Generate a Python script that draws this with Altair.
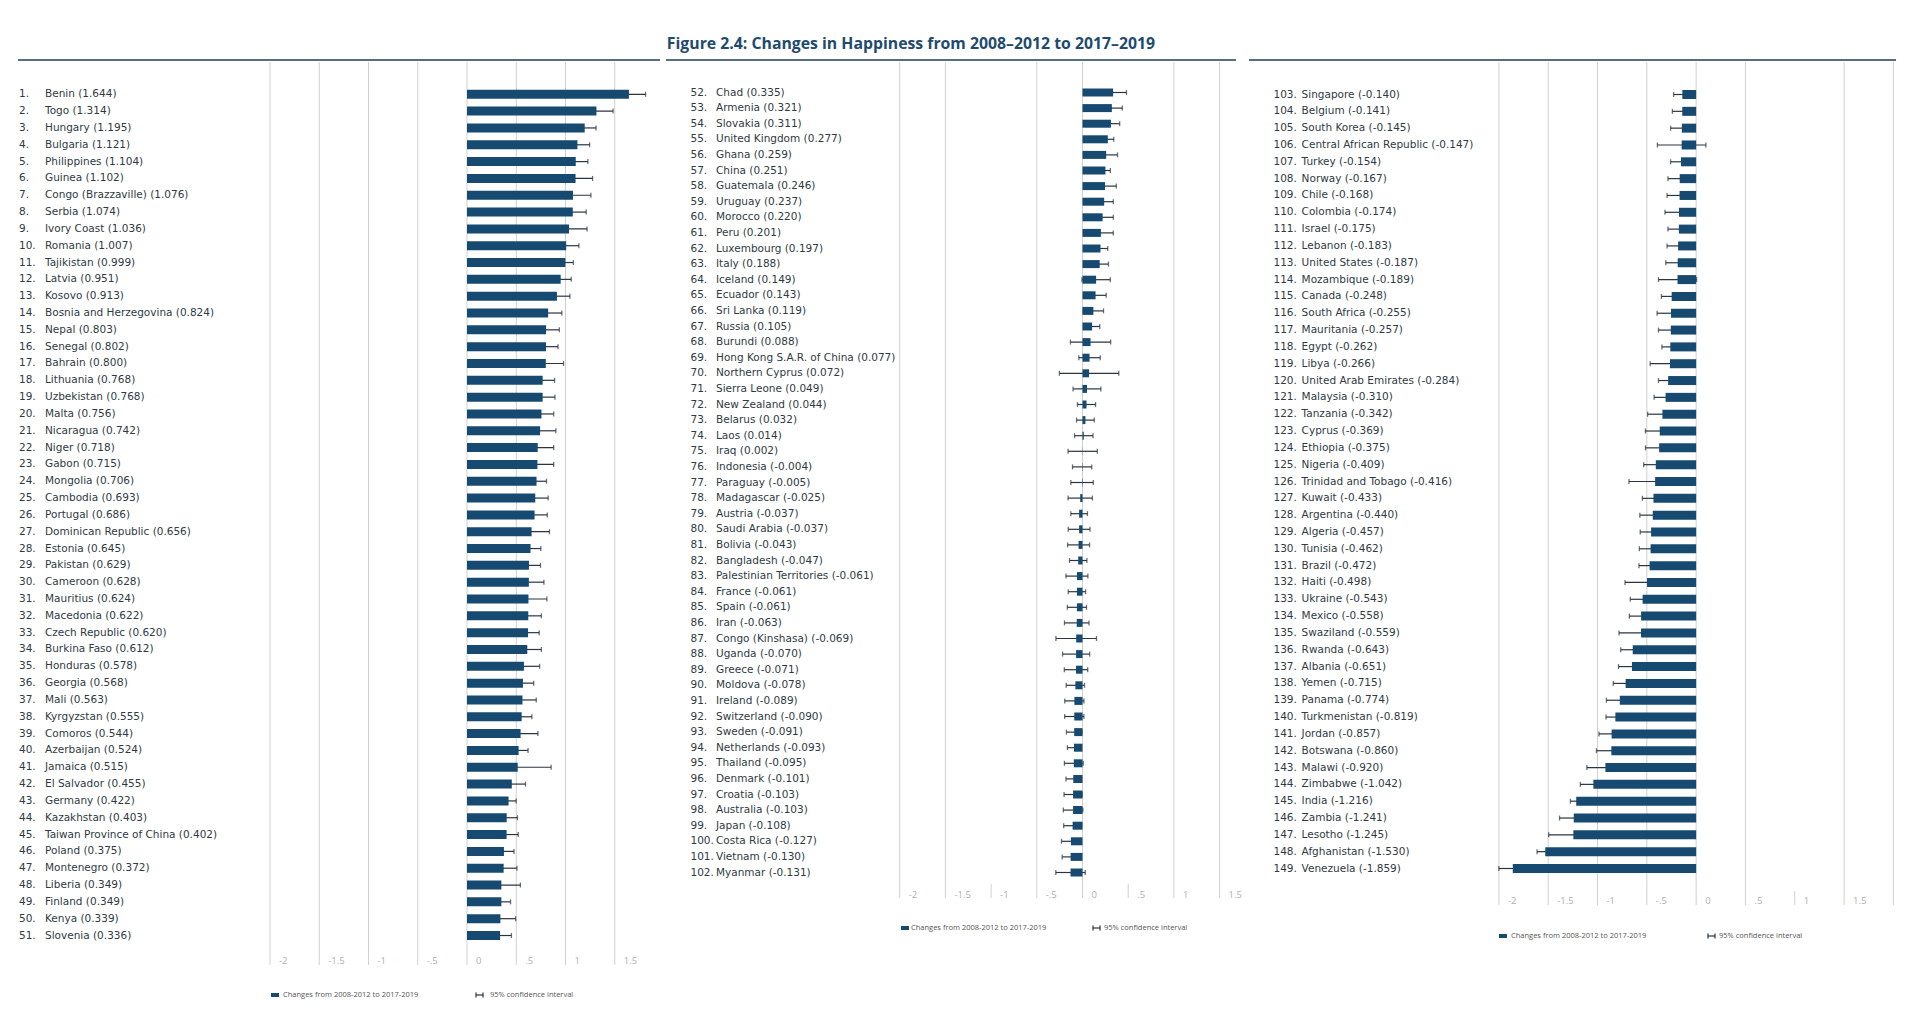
import altair as alt
import pandas as pd

TITLE = "Figure 2.4: Changes in Happiness from 2008\u20132012 to 2017\u20132019"

names_1 = ["Benin", "Togo", "Hungary", "Bulgaria", "Philippines", "Guinea", "Congo (Brazzaville)", "Serbia",
           "Ivory Coast", "Romania", "Tajikistan", "Latvia", "Kosovo", "Bosnia and Herzegovina", "Nepal", "Senegal",
           "Bahrain", "Lithuania", "Uzbekistan", "Malta", "Nicaragua", "Niger", "Gabon", "Mongolia", "Cambodia",
           "Portugal", "Dominican Republic", "Estonia", "Pakistan", "Cameroon", "Mauritius", "Macedonia",
           "Czech Republic", "Burkina Faso", "Honduras", "Georgia", "Mali", "Kyrgyzstan", "Comoros", "Azerbaijan",
           "Jamaica", "El Salvador", "Germany", "Kazakhstan", "Taiwan Province of China", "Poland", "Montenegro",
           "Liberia", "Finland", "Kenya", "Slovenia"]
values_1 = [1.644, 1.314, 1.195, 1.121, 1.104, 1.102, 1.076, 1.074, 1.036, 1.007, 0.999, 0.951, 0.913, 0.824,
            0.803, 0.802, 0.800, 0.768, 0.768, 0.756, 0.742, 0.718, 0.715, 0.706, 0.693, 0.686, 0.656, 0.645,
            0.629, 0.628, 0.624, 0.622, 0.620, 0.612, 0.578, 0.568, 0.563, 0.555, 0.544, 0.524, 0.515, 0.455,
            0.422, 0.403, 0.402, 0.375, 0.372, 0.349, 0.349, 0.339, 0.336]
ci_1 = [0.169, 0.169, 0.115, 0.124, 0.123, 0.173, 0.182, 0.136, 0.183, 0.129, 0.081, 0.107, 0.132, 0.139, 0.134,
        0.122, 0.180, 0.121, 0.125, 0.124, 0.160, 0.162, 0.165, 0.101, 0.131, 0.129, 0.181, 0.105, 0.117, 0.153,
        0.187, 0.133, 0.113, 0.143, 0.159, 0.109, 0.140, 0.104, 0.176, 0.096, 0.339, 0.139, 0.077, 0.109, 0.118,
        0.102, 0.135, 0.193, 0.093, 0.155, 0.115]

names_2 = ["Chad", "Armenia", "Slovakia", "United Kingdom", "Ghana", "China", "Guatemala", "Uruguay", "Morocco",
           "Peru", "Luxembourg", "Italy", "Iceland", "Ecuador", "Sri Lanka", "Russia", "Burundi",
           "Hong Kong S.A.R. of China", "Northern Cyprus", "Sierra Leone", "New Zealand", "Belarus", "Laos", "Iraq",
           "Indonesia", "Paraguay", "Madagascar", "Austria", "Saudi Arabia", "Bolivia", "Bangladesh",
           "Palestinian Territories", "France", "Spain", "Iran", "Congo (Kinshasa)", "Uganda", "Greece", "Moldova",
           "Ireland", "Switzerland", "Sweden", "Netherlands", "Thailand", "Denmark", "Croatia", "Australia", "Japan",
           "Costa Rica", "Vietnam", "Myanmar"]
values_2 = [0.335, 0.321, 0.311, 0.277, 0.259, 0.251, 0.246, 0.237, 0.220, 0.201, 0.197, 0.188, 0.149, 0.143,
            0.119, 0.105, 0.088, 0.077, 0.072, 0.049, 0.044, 0.032, 0.014, 0.002, -0.004, -0.005, -0.025, -0.037,
            -0.037, -0.043, -0.047, -0.061, -0.061, -0.061, -0.063, -0.069, -0.070, -0.071, -0.078, -0.089,
            -0.090, -0.091, -0.093, -0.095, -0.101, -0.103, -0.103, -0.108, -0.127, -0.130, -0.131]
ci_2 = [0.146, 0.115, 0.096, 0.065, 0.124, 0.054, 0.124, 0.100, 0.117, 0.136, 0.079, 0.096, 0.155, 0.116, 0.111,
        0.084, 0.220, 0.117, 0.325, 0.152, 0.099, 0.097, 0.101, 0.160, 0.105, 0.123, 0.133, 0.091, 0.119, 0.120,
        0.095, 0.120, 0.095, 0.105, 0.134, 0.222, 0.148, 0.128, 0.100, 0.105, 0.105, 0.085, 0.072, 0.103, 0.080,
        0.099, 0.107, 0.098, 0.103, 0.092, 0.161]

names_3 = ["Singapore", "Belgium", "South Korea", "Central African Republic", "Turkey", "Norway", "Chile",
           "Colombia", "Israel", "Lebanon", "United States", "Mozambique", "Canada", "South Africa", "Mauritania",
           "Egypt", "Libya", "United Arab Emirates", "Malaysia", "Tanzania", "Cyprus", "Ethiopia", "Nigeria",
           "Trinidad and Tobago", "Kuwait", "Argentina", "Algeria", "Tunisia", "Brazil", "Haiti", "Ukraine",
           "Mexico", "Swaziland", "Rwanda", "Albania", "Yemen", "Panama", "Turkmenistan", "Jordan", "Botswana",
           "Malawi", "Zimbabwe", "India", "Zambia", "Lesotho", "Afghanistan", "Venezuela"]
values_3 = [-0.140, -0.141, -0.145, -0.147, -0.154, -0.167, -0.168, -0.174, -0.175, -0.183, -0.187, -0.189,
            -0.248, -0.255, -0.257, -0.262, -0.266, -0.284, -0.310, -0.342, -0.369, -0.375, -0.409, -0.416,
            -0.433, -0.440, -0.457, -0.462, -0.472, -0.498, -0.543, -0.558, -0.559, -0.643, -0.651, -0.715,
            -0.774, -0.819, -0.857, -0.860, -0.920, -1.042, -1.216, -1.241, -1.245, -1.530, -1.859]
ci_3 = [0.089, 0.100, 0.114, 0.246, 0.105, 0.119, 0.127, 0.142, 0.111, 0.112, 0.121, 0.193, 0.104, 0.141, 0.125,
        0.085, 0.200, 0.098, 0.116, 0.150, 0.145, 0.139, 0.123, 0.265, 0.112, 0.131, 0.110, 0.114, 0.108, 0.223,
        0.125, 0.119, 0.223, 0.122, 0.136, 0.125, 0.136, 0.095, 0.128, 0.151, 0.188, 0.132, 0.059, 0.144, 0.250,
        0.083, 0.141]

tick_values = [-2, -1.5, -1, -0.5, 0, 0.5, 1, 1.5]
tick_labels = ["-2", "-1.5", "-1", "-.5", "0", ".5", "1", "1.5"]
legend_labels = ["Changes from 2008-2012 to 2017-2019", "95% confidence interval"]

FONT = "Open Sans"
LABEL_FONT = "DejaVu Sans"
BAR = "#164a70"
ERR = "#2b3440"
GRID = "#d0d0d0"
TXT = "#2f3a44"
HEAD = "#1f4b6e"
LINE = "#1f3d5a"
TICKTXT = "#b0b0b0"
LEGTXT = "#555555"
H = 996

panels = [
    dict(names=names_1, values=values_1, ci=ci_1, first=1, width=657, x_range=[262, 656],
         y_range=[86.3, 927.5], grid_full=[-2, -1.5, -1, -0.5, 0, 0.5, 1, 1.5], grid_short=[],
         grid_bottom=957, tick_y=953, legend_y=987, legend_x=[263, 275, 468, 482],
         rank_x=11, name_x=37, line=[10, 652], bar=9, title_x=None),
    dict(names=names_2, values=values_2, ci=ci_2, first=52, width=579, x_range=[234.7, 600.3],
         y_range=[84.5, 864.5], grid_full=[-2, -1.5, -0.5, 0, 1, 1.5], grid_short=[-1, 0.5],
         grid_bottom=890, tick_y=887, legend_y=920, legend_x=[236, 246, 428, 439],
         rank_x=25.5, name_x=51, line=[1, 571], bar=8, title_x=246),
    dict(names=names_3, values=values_3, ci=ci_3, first=103, width=666, x_range=[254.9, 649.4],
         y_range=[86.5, 860.5], grid_full=[-2, -1.5, -1, -0.5, 0, 0.5, 1.5, 2], grid_short=[1],
         grid_bottom=897, tick_y=893, legend_y=928, legend_x=[255, 267, 464, 475],
         rank_x=29.5, name_x=57.6, line=[5, 652], bar=9, title_x=None),
]

dummy = pd.DataFrame({"k": [0]})


def build_panel(cfg):
    names, vals, cis = cfg["names"], cfg["values"], cfg["ci"]
    n = len(names)
    df = pd.DataFrame({
        "idx": list(range(n)),
        "rank": [f"{cfg['first'] + i}." for i in range(n)],
        "label": [f"{nm} ({v:.3f})" for nm, v in zip(names, vals)],
        "value": vals,
        "lo": [v - c for v, c in zip(vals, cis)],
        "hi": [v + c for v, c in zip(vals, cis)],
        "zero": [0.0] * n,
    })
    xs = alt.Scale(domain=[-2, 2], range=cfg["x_range"], nice=False, zero=False, padding=0)
    ys = alt.Scale(domain=[0, n - 1], range=cfg["y_range"], nice=False, zero=False, padding=0)
    Y = alt.Y("idx:Q", scale=ys, axis=None)
    layers = []
    layers.append(alt.Chart(dummy).mark_rule(color=LINE, strokeWidth=1.6).encode(
        x=alt.value(cfg["line"][0]), x2=alt.value(cfg["line"][1]), y=alt.value(52)))
    layers.append(alt.Chart(pd.DataFrame({"t": cfg["grid_full"]})).mark_rule(color=GRID, strokeWidth=1).encode(
        x=alt.X("t:Q", scale=xs, axis=None), y=alt.value(54), y2=alt.value(cfg["grid_bottom"])))
    if cfg["grid_short"]:
        layers.append(alt.Chart(pd.DataFrame({"t": cfg["grid_short"]})).mark_rule(color=GRID, strokeWidth=1).encode(
            x=alt.X("t:Q", scale=xs, axis=None), y=alt.value(cfg["grid_bottom"] - 14),
            y2=alt.value(cfg["grid_bottom"])))
    layers.append(alt.Chart(pd.DataFrame({"t": tick_values, "lab": tick_labels})).mark_text(
        align="left", baseline="middle", dx=9, font=FONT, fontSize=9.5, color=TICKTXT).encode(
        x=alt.X("t:Q", scale=xs, axis=None), y=alt.value(cfg["tick_y"]), text="lab:N"))
    layers.append(alt.Chart(df).mark_rule(color=ERR, strokeWidth=1.2).encode(
        x=alt.X("lo:Q", scale=xs, axis=None), x2="hi:Q", y=Y))
    for f in ["lo", "hi"]:
        layers.append(alt.Chart(df).mark_tick(orient="vertical", size=5, thickness=1.3, color=ERR).encode(
            x=alt.X(f"{f}:Q", scale=xs, axis=None), y=Y))
    layers.append(alt.Chart(df).mark_bar(orient="horizontal", size=cfg["bar"], color=BAR).encode(
        x=alt.X("value:Q", scale=xs, axis=None), x2="zero:Q", y=Y))
    layers.append(alt.Chart(df).mark_text(align="left", baseline="middle", font=LABEL_FONT, fontSize=10.5,
                                          color=TXT).encode(x=alt.value(cfg["rank_x"]), y=Y, text="rank:N"))
    layers.append(alt.Chart(df).mark_text(align="left", baseline="middle", font=LABEL_FONT, fontSize=10.5,
                                          color=TXT).encode(x=alt.value(cfg["name_x"]), y=Y, text="label:N"))
    lx = cfg["legend_x"]
    ly = cfg["legend_y"]
    layers.append(alt.Chart(dummy).mark_rect(color=BAR).encode(
        x=alt.value(lx[0]), x2=alt.value(lx[0] + 8), y=alt.value(ly - 2), y2=alt.value(ly + 2)))
    layers.append(alt.Chart(dummy).mark_text(text=legend_labels[0], align="left", baseline="middle", font=FONT,
                                             fontSize=7.5, color=LEGTXT).encode(
        x=alt.value(lx[1]), y=alt.value(ly)))
    layers.append(alt.Chart(dummy).mark_rule(color=ERR, strokeWidth=1.2).encode(
        x=alt.value(lx[2]), x2=alt.value(lx[2] + 7), y=alt.value(ly)))
    for dx in [0, 7]:
        layers.append(alt.Chart(dummy).mark_rule(color=ERR, strokeWidth=1.2).encode(
            x=alt.value(lx[2] + dx), y=alt.value(ly - 2.5), y2=alt.value(ly + 2.5)))
    layers.append(alt.Chart(dummy).mark_text(text=legend_labels[1], align="left", baseline="middle", font=FONT,
                                             fontSize=7.5, color=LEGTXT).encode(
        x=alt.value(lx[3]), y=alt.value(ly)))
    if cfg["title_x"] is not None:
        layers.append(alt.Chart(dummy).mark_text(text=TITLE, align="center", baseline="middle", font=FONT,
                                                 fontSize=15.8, fontWeight="bold", color=HEAD).encode(
            x=alt.value(cfg["title_x"]), y=alt.value(36)))
    return alt.layer(*layers).properties(width=cfg["width"], height=H)


chart = alt.hconcat(*[build_panel(c) for c in panels], spacing=0, bounds="flush").resolve_scale(
    x="independent", y="independent").properties(padding=0, background="white").configure_view(
    stroke=None, strokeWidth=0)

chart.save("out.html", embed_options={"renderer": "svg", "actions": False})
